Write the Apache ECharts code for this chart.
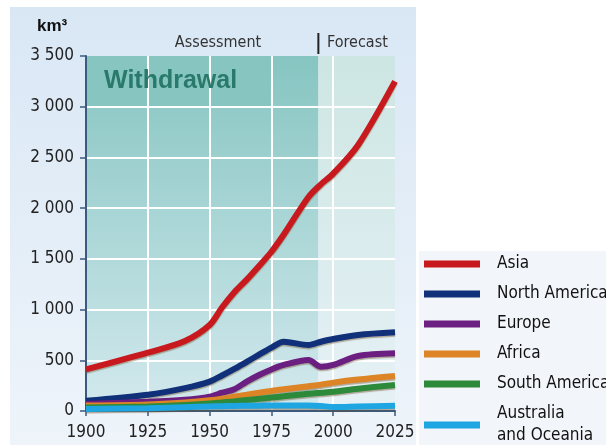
<!DOCTYPE html>
<html>
<head>
<meta charset="utf-8">
<script src="https://cdn.jsdelivr.net/npm/echarts@6/dist/echarts.min.js"></script>
<style>
  html, body { margin: 0; padding: 0; background: #fff; }
  #chart { width: 606px; height: 445px; }
</style>
</head>
<body>
<div id="chart"></div>
<script>
// data (km3 per year)
var years = [1900, 1925, 1940, 1950, 1955, 1960, 1965, 1970, 1975, 1980, 1990, 1995, 2000, 2010, 2025];
var asia = [410, 575, 690, 848, 1020, 1170, 1295, 1430, 1570, 1740, 2110, 2235, 2340, 2620, 3250];
var northAmerica = [100, 160, 225, 290, 350, 415, 485, 555, 625, 683, 651, 683, 710, 750, 776];
var europe = [70, 90, 110, 141, 180, 215, 290, 355, 410, 454, 503, 437, 454, 542, 569];
var africa = [55, 65, 85, 105, 120, 140, 160, 180, 198, 215, 245, 260, 280, 310, 345];
var southAmerica = [35, 45, 60, 75, 85, 95, 108, 120, 133, 145, 170, 180, 190, 220, 256];
var oceania = [20, 28, 38, 45, 48, 50, 51, 52, 54, 55, 55, 50, 40, 45, 52];

var seriesNames = ['Asia', 'North America', 'Europe', 'Africa', 'South America', 'Australia\nand Oceania'];
var seriesData = [asia, northAmerica, europe, africa, southAmerica, oceania];
var colors = ['#c8191e', '#10307a', '#6b1f80', '#dd8526', '#2c8a3a', '#1ea6e2'];

var forecastStart = 1994;
var xTicks = [1900, 2025, 25];
var yTicks = [0, 3500, 500];

var narrow = "'Liberation Sans Narrow', 'DejaVu Sans Condensed', 'Roboto Condensed', 'Liberation Sans', sans-serif";

function grad(top, bottom) {
    return new echarts.graphic.LinearGradient(0, 0, 0, 1, [
        { offset: 0, color: top },
        { offset: 1, color: bottom }
    ]);
}

// 3500 -> "3 500"
function fmtThousands(v) {
    return String(v).replace(/\B(?=(\d{3})+(?!\d))/g, ' ');
}

var chart = echarts.init(document.getElementById('chart'));

var series = [{
    // backgrounds for assessment / forecast periods
    type: 'line',
    data: [],
    silent: true,
    z: 1,
    markArea: {
        silent: true,
        data: [
            [{ coord: [xTicks[0], yTicks[0]], itemStyle: { color: grad('#86c5c1', '#d3e9ee') } },
             { coord: [forecastStart, yTicks[1]] }],
            [{ coord: [forecastStart, yTicks[0]], itemStyle: { color: grad('#cde6e3', '#e6f1f6') } },
             { coord: [xTicks[1], yTicks[1]] }]
        ]
    }
}, {
    // "Withdrawal" box hides the grid lines in the top band
    type: 'line',
    data: [],
    silent: true,
    z: 3,
    markArea: {
        silent: true,
        data: [
            [{ coord: [1900.4, 3005], itemStyle: { color: '#87c5c1' } },
             { coord: [1974.6, yTicks[1]] }]
        ]
    }
}];

seriesNames.forEach(function (name, i) {
    series.push({
        name: name,
        type: 'line',
        z: 5,
        smooth: 0.3,
        showSymbol: false,
        symbol: 'none',
        data: years.map(function (y, k) { return [y, seriesData[i][k]]; }),
        itemStyle: { color: colors[i] },
        lineStyle: {
            color: colors[i],
            width: 6,
            shadowColor: 'rgba(110, 80, 40, 0.45)',
            shadowOffsetY: 1.5,
            shadowBlur: 1
        }
    });
});

var legendBase = {
    orient: 'vertical',
    left: 424,
    padding: 0,
    itemWidth: 56,
    itemHeight: 7,
    itemGap: 8,
    icon: 'rect',
    selectedMode: false,
    textStyle: {
        color: '#111',
        fontSize: 17,
        fontFamily: narrow,
        lineHeight: 22,
        padding: [0, 0, 0, 12]
    }
};

chart.setOption({
    animation: false,
    grid: { left: 86, right: 211, top: 56, bottom: 34 },
    xAxis: {
        type: 'value',
        min: xTicks[0],
        max: xTicks[1],
        interval: xTicks[2],
        z: 2,
        axisLine: { show: true, lineStyle: { color: '#3c5a7e', width: 2 } },
        axisTick: { show: true, length: 5, lineStyle: { color: '#3c5a7e', width: 1.5 } },
        axisLabel: { color: '#222', fontSize: 17, fontFamily: narrow, margin: 13, formatter: function (v) { return String(v); } },
        splitLine: { show: true, showMinLine: false, showMaxLine: false, lineStyle: { color: '#ffffff', width: 2 } }
    },
    yAxis: {
        type: 'value',
        min: yTicks[0],
        max: yTicks[1],
        interval: yTicks[2],
        z: 2,
        axisLine: { show: true, lineStyle: { color: '#3c5a7e', width: 2 } },
        axisTick: { show: true, length: 6, lineStyle: { color: '#3c5a7e', width: 1.5 } },
        axisLabel: { color: '#222', fontSize: 17, fontFamily: narrow, margin: 12, formatter: fmtThousands },
        splitLine: { show: true, showMinLine: false, showMaxLine: false, lineStyle: { color: '#ffffff', width: 2 } }
    },
    // two legends so the two-line entry is not pushed into a new column
    legend: [
        Object.assign({}, legendBase, { top: 253, data: seriesNames.slice(0, 5) }),
        Object.assign({}, legendBase, { top: 403, data: seriesNames.slice(5) })
    ],
    graphic: [{
        id: 'panel',
        type: 'rect',
        z: -100,
        silent: true,
        shape: { x: 10, y: 7, width: 406, height: 438 },
        style: { fill: grad('#d9e7f5', '#eef4fa') }
    }, {
        id: 'legendPanel',
        type: 'rect',
        z: -99,
        silent: true,
        shape: { x: 419, y: 251, width: 187, height: 194 },
        style: { fill: '#f2f5f9' }
    }, {
        id: 'unit',
        type: 'text',
        x: 37, y: 18, z: 10,
        style: { text: 'km³', font: "bold 17px 'Liberation Sans', sans-serif", fill: '#111' }
    }, {
        id: 'assess',
        type: 'text',
        x: 218, y: 43, z: 10,
        style: { text: 'Assessment', font: '16px ' + narrow, fill: '#333', align: 'center', verticalAlign: 'middle' }
    }, {
        id: 'forecast',
        type: 'text',
        x: 327, y: 43, z: 10,
        style: { text: 'Forecast', font: '16px ' + narrow, fill: '#333', align: 'left', verticalAlign: 'middle' }
    }, {
        id: 'withdrawal',
        type: 'text',
        x: 104, y: 81, z: 10,
        style: { text: 'Withdrawal', font: "bold 25px 'Liberation Sans', sans-serif", fill: '#2a7a6c', verticalAlign: 'middle' }
    }],
    series: series
});

// divider between assessment and forecast, placed from the axis scale
var divX = chart.convertToPixel({ xAxisIndex: 0 }, forecastStart);
chart.setOption({
    graphic: {
        elements: [{
            id: 'divider',
            type: 'line',
            z: 10,
            silent: true,
            shape: { x1: divX, y1: 33, x2: divX, y2: 54 },
            style: { stroke: '#222', lineWidth: 2 }
        }]
    }
});
</script>
</body>
</html>
